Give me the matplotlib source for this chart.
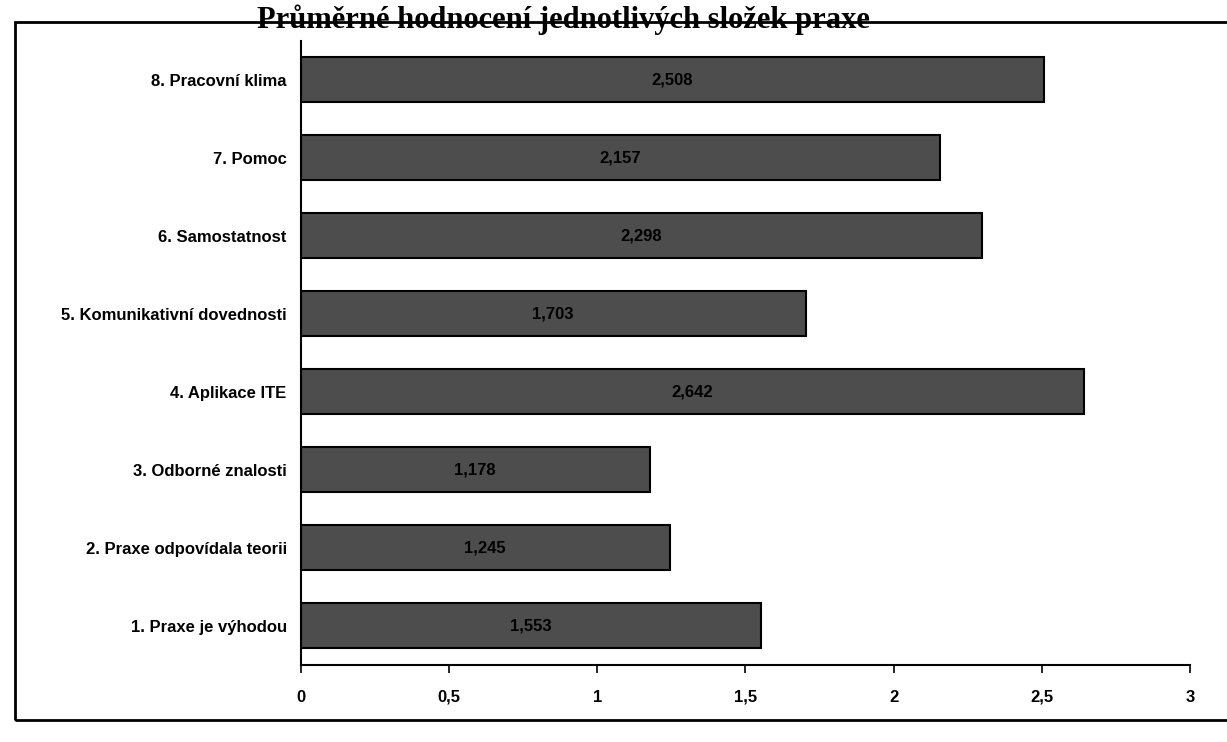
import matplotlib.pyplot as plt
from matplotlib.patches import Rectangle
from matplotlib.ticker import FuncFormatter

# average score per component of the practice
categories = ["1. Praxe je výhodou", "2. Praxe odpovídala teorii", "3. Odborné znalosti",
              "4. Aplikace ITE", "5. Komunikativní dovednosti", "6. Samostatnost",
              "7. Pomoc", "8. Pracovní klima"]
values = [1.553, 1.245, 1.178, 2.642, 1.703, 2.298, 2.157, 2.508]
xticks = [0, 0.5, 1, 1.5, 2, 2.5, 3]
title = "Průměrné hodnocení jednotlivých složek praxe"

plt.rcParams['font.family'] = ['Liberation Sans', 'DejaVu Sans']

fig = plt.figure(figsize=(12.27, 7.42), dpi=100)
ax = fig.add_axes([0.245, 0.104, 0.725, 0.841])

pos = range(len(categories))
ax.barh(pos, values, height=0.58, color="#4d4d4d", edgecolor="black", linewidth=1.5)

for i, v in zip(pos, values):
    ax.text(v / 2, i, ("%.3f" % v).replace(".", ","), ha="center", va="center",
            fontsize=12, fontweight="bold", color="black")

ax.set_xlim(0, 3)
ax.set_ylim(-0.5, len(categories) - 0.5)
ax.set_yticks(list(pos))
ax.set_yticklabels(categories, fontsize=12, fontweight="bold")
ax.tick_params(axis="y", length=0, pad=10)
ax.set_xticks(xticks)
ax.xaxis.set_major_formatter(FuncFormatter(lambda x, p: ("%g" % x).replace(".", ",")))
ax.tick_params(axis="x", length=6, width=1.2, direction="out", pad=12, labelsize=12)
for lab in ax.get_xticklabels():
    lab.set_fontweight("bold")

for s in ["top", "right"]:
    ax.spines[s].set_visible(False)
ax.spines["left"].set_linewidth(1.5)
ax.spines["bottom"].set_linewidth(1.5)

# outer frame around the chart
fig.patches.append(Rectangle((0.012, 0.03), 1.1, 0.94, transform=fig.transFigure,
                             fill=False, edgecolor="black", linewidth=2))

fig.text(0.709, 0.962, title, ha="right", va="baseline", fontsize=22,
         fontweight="bold", family="Liberation Serif")

fig.savefig("out.png", dpi=100)
